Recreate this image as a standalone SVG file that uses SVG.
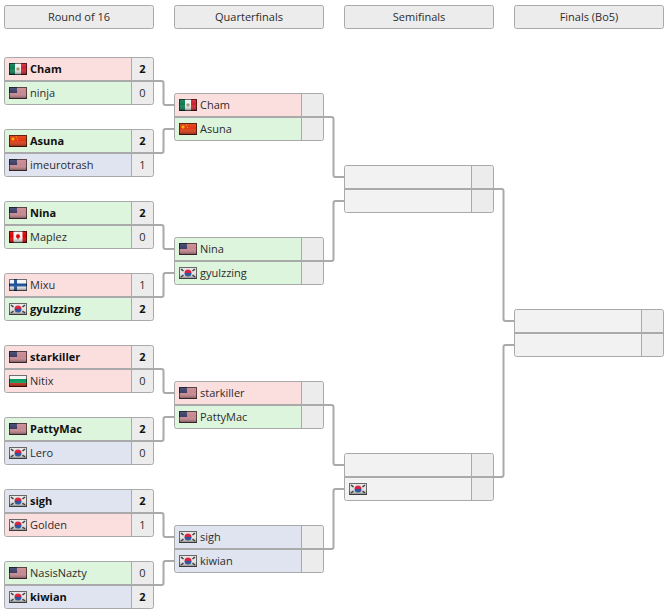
<svg xmlns="http://www.w3.org/2000/svg" width="672" height="613" viewBox="0 0 672 613">
<style>
text{font-family:"Open Sans","Noto Sans","Liberation Sans",sans-serif;font-size:11px;fill:#2c2c2c}
.b{font-weight:700;fill:#111}
.c{text-anchor:middle}
.h{fill:#ececec;stroke:#aaa;stroke-width:1}
.o{fill:none;stroke:#aaa;stroke-width:1}
.mid{stroke:#aaa;stroke-width:2;fill:none}
.div{stroke:#aaa;stroke-width:1;fill:none}
.r{fill:#fbdfdf}.g{fill:#ddf4dd}.u{fill:#dfe4f0}.e{fill:#f2f2f2}.s{fill:#ececec}
.con{fill:none;stroke:#aaa;stroke-width:2}
</style>
<defs>
<linearGradient id="sh" x1="0" y1="0" x2="0" y2="1">
<stop offset="0" stop-color="#fff" stop-opacity=".12"/><stop offset=".45" stop-color="#fff" stop-opacity="0"/><stop offset="1" stop-color="#000" stop-opacity=".5"/>
</linearGradient>
<g id="ov"><rect width="18" height="12" fill="url(#sh)"/><rect x=".5" y=".5" width="17" height="11" fill="none" stroke="#000" stroke-opacity=".55"/></g>
<g id="us"><rect width="18" height="12" fill="#e6d4d6"/><path d="M0 1h18M0 3h18M0 5h18M0 7h18M0 9h18M0 11h18" stroke="#a83a46" stroke-width="1"/><rect width="8" height="6" fill="#3c3f66"/><use href="#ov"/></g>
<g id="mx"><rect width="6" height="12" fill="#0a7a50"/><rect x="6" width="6" height="12" fill="#f2f2f2"/><rect x="12" width="6" height="12" fill="#d0202e"/><circle cx="9" cy="6" r="1.8" fill="#a89a78"/><use href="#ov"/></g>
<g id="cn"><rect width="18" height="12" fill="#e0380f"/><circle cx="4" cy="4" r="1.6" fill="#f0b000"/><circle cx="7.500" cy="2" r=".6" fill="#f0b000"/><circle cx="8.500" cy="4.500" r=".6" fill="#f0b000"/><use href="#ov"/></g>
<g id="ca"><rect width="18" height="12" fill="#f4f4f4"/><rect width="4.500" height="12" fill="#e00000"/><rect x="13.500" width="4.500" height="12" fill="#e00000"/><path d="M9 2.500l1 1.500 1-.5-.4 2 .9.300-2 1.600v1.100h-1V7.400L6.500 5.800l.9-.3-.4-2 1 .5z" fill="#d80000"/><use href="#ov"/></g>
<g id="kr"><rect width="18" height="12" fill="#e4e4e4"/><path d="M5.500 6a3.500 3.500 0 0 1 7 0z" fill="#d81e3c"/><path d="M5.500 6a3.500 3.500 0 0 0 7 0z" fill="#1a4a9a"/><path d="M2 2l2.500 2M2 10l2.500-2M16 2l-2.500 2M16 10l-2.500-2" stroke="#333" stroke-width="1.600" fill="none"/><use href="#ov"/></g>
<g id="fi"><rect width="18" height="12" fill="#f4f4f4"/><rect x="5" width="3" height="12" fill="#1c4f96"/><rect y="4.500" width="18" height="3" fill="#1c4f96"/><use href="#ov"/></g>
<g id="bg"><rect width="18" height="4" fill="#f4f4f4"/><rect y="4" width="18" height="4" fill="#0a9a60"/><rect y="8" width="18" height="4" fill="#d42a10"/><use href="#ov"/></g>
</defs>

<g id="header-r16"><rect class="h" x="4.500" y="5.500" width="149" height="23" rx="2"/><text class="c" x="79" y="21">Round of 16</text></g>
<g id="header-qf"><rect class="h" x="174.500" y="5.500" width="149" height="23" rx="2"/><text class="c" x="249" y="21">Quarterfinals</text></g>
<g id="header-sf"><rect class="h" x="344.500" y="5.500" width="149" height="23" rx="2"/><text class="c" x="419" y="21">Semifinals</text></g>
<g id="header-f"><rect class="h" x="514.500" y="5.500" width="149" height="23" rx="2"/><text class="c" x="589" y="21">Finals (Bo5)</text></g>

<g id="match-r16-1"><rect class="r" x="5" y="58" width="126" height="23"/><rect class="g" x="5" y="81" width="126" height="23"/><rect class="s" x="132" y="58" width="21" height="46"/><rect class="o" x="4.500" y="57.500" width="149" height="47" rx="2"/><path class="div" d="M131.500 57.500V104.500"/><path class="mid" d="M4 81H154"/>
<use href="#mx" x="9" y="63"/><text class="b" x="30" y="73">Cham</text><text class="b c" x="142.500" y="73">2</text><use href="#us" x="9" y="87"/><text x="30" y="97">ninja</text><text class="c" x="142.500" y="97">0</text></g>
<g id="match-r16-2"><rect class="g" x="5" y="130" width="126" height="23"/><rect class="u" x="5" y="153" width="126" height="23"/><rect class="s" x="132" y="130" width="21" height="46"/><rect class="o" x="4.500" y="129.500" width="149" height="47" rx="2"/><path class="div" d="M131.500 129.500V176.500"/><path class="mid" d="M4 153H154"/>
<use href="#cn" x="9" y="135"/><text class="b" x="30" y="145">Asuna</text><text class="b c" x="142.500" y="145">2</text><use href="#us" x="9" y="159"/><text x="30" y="169">imeurotrash</text><text class="c" x="142.500" y="169">1</text></g>
<g id="match-r16-3"><rect class="g" x="5" y="202" width="126" height="23"/><rect class="g" x="5" y="225" width="126" height="23"/><rect class="s" x="132" y="202" width="21" height="46"/><rect class="o" x="4.500" y="201.500" width="149" height="47" rx="2"/><path class="div" d="M131.500 201.500V248.500"/><path class="mid" d="M4 225H154"/>
<use href="#us" x="9" y="207"/><text class="b" x="30" y="217">Nina</text><text class="b c" x="142.500" y="217">2</text><use href="#ca" x="9" y="231"/><text x="30" y="241">Maplez</text><text class="c" x="142.500" y="241">0</text></g>
<g id="match-r16-4"><rect class="r" x="5" y="274" width="126" height="23"/><rect class="g" x="5" y="297" width="126" height="23"/><rect class="s" x="132" y="274" width="21" height="46"/><rect class="o" x="4.500" y="273.500" width="149" height="47" rx="2"/><path class="div" d="M131.500 273.500V320.500"/><path class="mid" d="M4 297H154"/>
<use href="#fi" x="9" y="279"/><text x="30" y="289">Mixu</text><text class="c" x="142.500" y="289">1</text><use href="#kr" x="9" y="303"/><text class="b" x="30" y="313">gyulzzing</text><text class="b c" x="142.500" y="313">2</text></g>
<g id="match-r16-5"><rect class="r" x="5" y="346" width="126" height="23"/><rect class="r" x="5" y="369" width="126" height="23"/><rect class="s" x="132" y="346" width="21" height="46"/><rect class="o" x="4.500" y="345.500" width="149" height="47" rx="2"/><path class="div" d="M131.500 345.500V392.500"/><path class="mid" d="M4 369H154"/>
<use href="#us" x="9" y="351"/><text class="b" x="30" y="361">starkiller</text><text class="b c" x="142.500" y="361">2</text><use href="#bg" x="9" y="375"/><text x="30" y="385">Nitix</text><text class="c" x="142.500" y="385">0</text></g>
<g id="match-r16-6"><rect class="g" x="5" y="418" width="126" height="23"/><rect class="u" x="5" y="441" width="126" height="23"/><rect class="s" x="132" y="418" width="21" height="46"/><rect class="o" x="4.500" y="417.500" width="149" height="47" rx="2"/><path class="div" d="M131.500 417.500V464.500"/><path class="mid" d="M4 441H154"/>
<use href="#us" x="9" y="423"/><text class="b" x="30" y="433">PattyMac</text><text class="b c" x="142.500" y="433">2</text><use href="#kr" x="9" y="447"/><text x="30" y="457">Lero</text><text class="c" x="142.500" y="457">0</text></g>
<g id="match-r16-7"><rect class="u" x="5" y="490" width="126" height="23"/><rect class="r" x="5" y="513" width="126" height="23"/><rect class="s" x="132" y="490" width="21" height="46"/><rect class="o" x="4.500" y="489.500" width="149" height="47" rx="2"/><path class="div" d="M131.500 489.500V536.500"/><path class="mid" d="M4 513H154"/>
<use href="#kr" x="9" y="495"/><text class="b" x="30" y="505">sigh</text><text class="b c" x="142.500" y="505">2</text><use href="#kr" x="9" y="519"/><text x="30" y="529">Golden</text><text class="c" x="142.500" y="529">1</text></g>
<g id="match-r16-8"><rect class="g" x="5" y="562" width="126" height="23"/><rect class="u" x="5" y="585" width="126" height="23"/><rect class="s" x="132" y="562" width="21" height="46"/><rect class="o" x="4.500" y="561.500" width="149" height="47" rx="2"/><path class="div" d="M131.500 561.500V608.500"/><path class="mid" d="M4 585H154"/>
<use href="#us" x="9" y="567"/><text x="30" y="577">NasisNazty</text><text class="c" x="142.500" y="577">0</text><use href="#kr" x="9" y="591"/><text class="b" x="30" y="601">kiwian</text><text class="b c" x="142.500" y="601">2</text></g>

<g id="match-qf-1"><rect class="r" x="175" y="94" width="126" height="23"/><rect class="g" x="175" y="117" width="126" height="23"/><rect class="s" x="302" y="94" width="21" height="46"/><rect class="o" x="174.500" y="93.500" width="149" height="47" rx="2"/><path class="div" d="M301.500 93.500V140.500"/><path class="mid" d="M174 117H324"/>
<use href="#mx" x="179" y="99"/><text x="200" y="109">Cham</text><use href="#cn" x="179" y="123"/><text x="200" y="133">Asuna</text></g>
<g id="match-qf-2"><rect class="g" x="175" y="238" width="126" height="23"/><rect class="g" x="175" y="261" width="126" height="23"/><rect class="s" x="302" y="238" width="21" height="46"/><rect class="o" x="174.500" y="237.500" width="149" height="47" rx="2"/><path class="div" d="M301.500 237.500V284.500"/><path class="mid" d="M174 261H324"/>
<use href="#us" x="179" y="243"/><text x="200" y="253">Nina</text><use href="#kr" x="179" y="267"/><text x="200" y="277">gyulzzing</text></g>
<g id="match-qf-3"><rect class="r" x="175" y="382" width="126" height="23"/><rect class="g" x="175" y="405" width="126" height="23"/><rect class="s" x="302" y="382" width="21" height="46"/><rect class="o" x="174.500" y="381.500" width="149" height="47" rx="2"/><path class="div" d="M301.500 381.500V428.500"/><path class="mid" d="M174 405H324"/>
<use href="#us" x="179" y="387"/><text x="200" y="397">starkiller</text><use href="#us" x="179" y="411"/><text x="200" y="421">PattyMac</text></g>
<g id="match-qf-4"><rect class="u" x="175" y="526" width="126" height="23"/><rect class="u" x="175" y="549" width="126" height="23"/><rect class="s" x="302" y="526" width="21" height="46"/><rect class="o" x="174.500" y="525.500" width="149" height="47" rx="2"/><path class="div" d="M301.500 525.500V572.500"/><path class="mid" d="M174 549H324"/>
<use href="#kr" x="179" y="531"/><text x="200" y="541">sigh</text><use href="#kr" x="179" y="555"/><text x="200" y="565">kiwian</text></g>

<g id="match-sf-1"><rect class="e" x="345" y="166" width="126" height="46"/><rect class="s" x="472" y="166" width="21" height="46"/><rect class="o" x="344.500" y="165.500" width="149" height="47" rx="2"/><path class="div" d="M471.500 165.500V212.500"/><path class="mid" d="M344 189H494"/></g>
<g id="match-sf-2"><rect class="e" x="345" y="454" width="126" height="46"/><rect class="s" x="472" y="454" width="21" height="46"/><rect class="o" x="344.500" y="453.500" width="149" height="47" rx="2"/><path class="div" d="M471.500 453.500V500.500"/><path class="mid" d="M344 477H494"/><use href="#kr" x="349" y="483"/></g>
<g id="match-f"><rect class="e" x="515" y="310" width="126" height="46"/><rect class="s" x="642" y="310" width="21" height="46"/><rect class="o" x="514.500" y="309.500" width="149" height="47" rx="2"/><path class="div" d="M641.500 309.500V356.500"/><path class="mid" d="M514 333H664"/></g>

<g id="connectors">
<path class="con" d="M154 81H161.500Q163.500 81 163.500 83V103Q163.500 105 165.500 105H174"/>
<path class="con" d="M154 153H161.500Q163.500 153 163.500 151V131Q163.500 129 165.500 129H174"/>
<path class="con" d="M154 225H161.500Q163.500 225 163.500 227V247Q163.500 249 165.500 249H174"/>
<path class="con" d="M154 297H161.500Q163.500 297 163.500 295V275Q163.500 273 165.500 273H174"/>
<path class="con" d="M154 369H161.500Q163.500 369 163.500 371V391Q163.500 393 165.500 393H174"/>
<path class="con" d="M154 441H161.500Q163.500 441 163.500 439V419Q163.500 417 165.500 417H174"/>
<path class="con" d="M154 513H161.500Q163.500 513 163.500 515V535Q163.500 537 165.500 537H174"/>
<path class="con" d="M154 585H161.500Q163.500 585 163.500 583V563Q163.500 561 165.500 561H174"/>
<path class="con" d="M324 117H331.500Q333.500 117 333.500 119V175Q333.500 177 335.500 177H344"/>
<path class="con" d="M324 261H331.500Q333.500 261 333.500 259V203Q333.500 201 335.500 201H344"/>
<path class="con" d="M324 405H331.500Q333.500 405 333.500 407V463Q333.500 465 335.500 465H344"/>
<path class="con" d="M324 549H331.500Q333.500 549 333.500 547V491Q333.500 489 335.500 489H344"/>
<path class="con" d="M494 189H501.500Q503.500 189 503.500 191V319Q503.500 321 505.500 321H514"/>
<path class="con" d="M494 477H501.500Q503.500 477 503.500 475V347Q503.500 345 505.500 345H514"/>
</g>
</svg>
